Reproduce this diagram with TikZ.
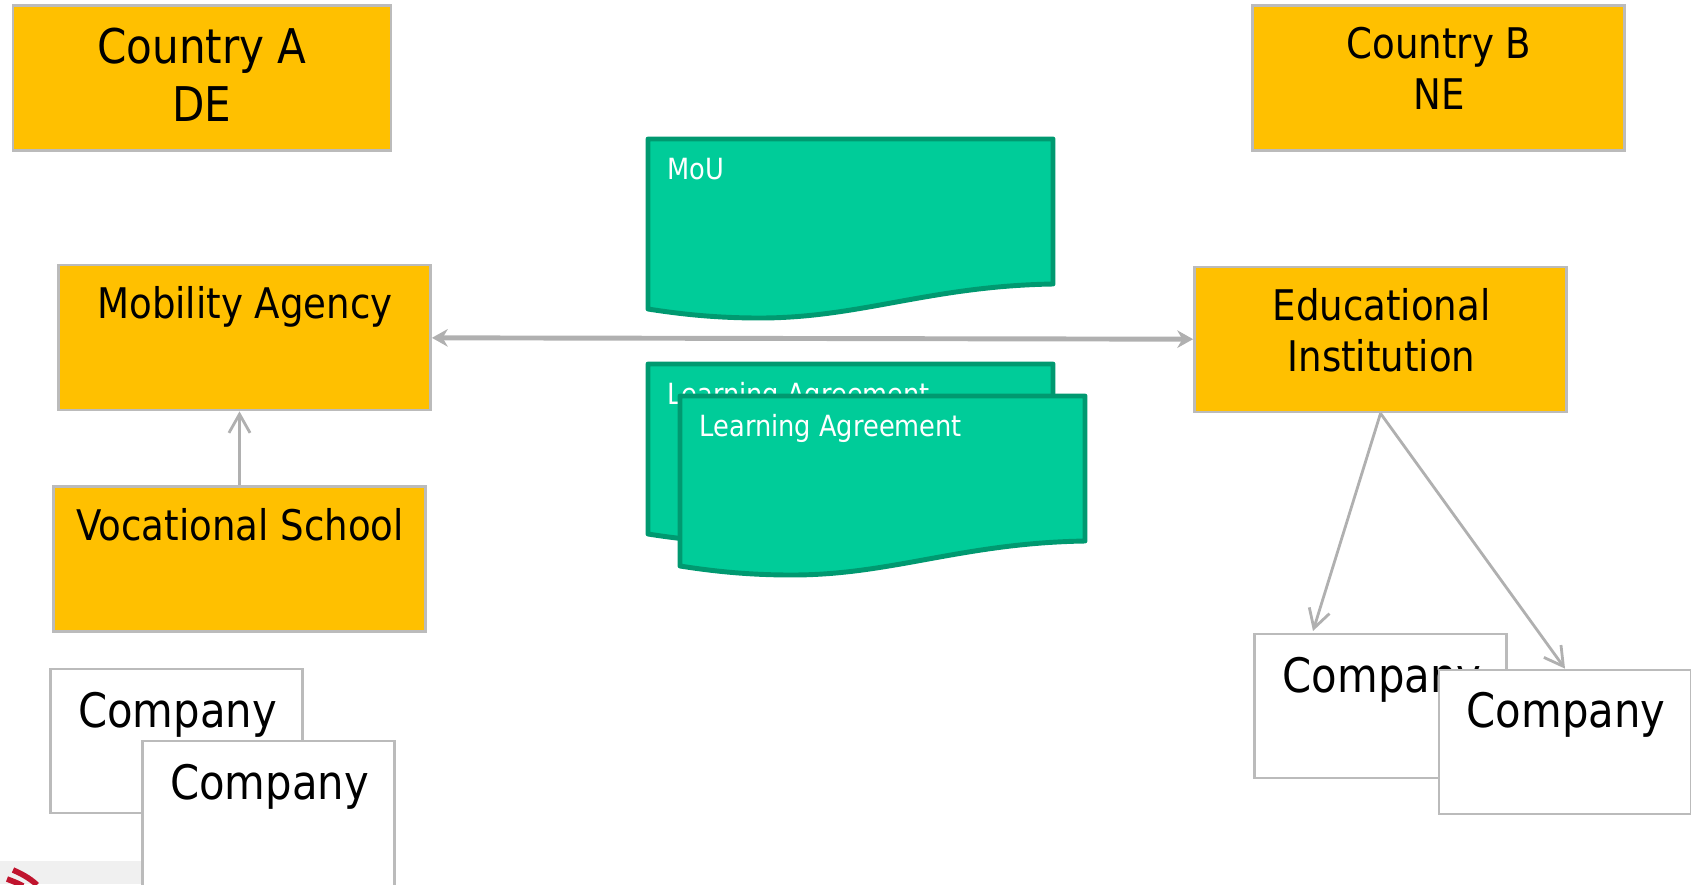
\documentclass[tikz,border=0pt]{standalone}
\usepackage{fontspec}
\setmainfont{DejaVu Sans}[FakeStretch=0.88]
\usetikzlibrary{arrows.meta}
\definecolor{boxgold}{HTML}{FFC000}
\definecolor{boxline}{HTML}{BBBBBB}
\definecolor{arrowline}{HTML}{B0B0B0}
\definecolor{docfill}{HTML}{00CC99}
\definecolor{docline}{HTML}{009970}
\definecolor{scrapred}{HTML}{C0142E}
\tikzset{
  goldbox/.style = {rectangle, draw=boxline, line width=0.75pt, fill=boxgold, minimum width=3.72cm, minimum height=1.45cm, inner sep=0pt},
  whitebox/.style = {rectangle, draw=boxline, line width=0.75pt, fill=white, minimum width=2.52cm, minimum height=1.44cm, inner sep=0pt},
  boxtext/.style = {align=center, text=black, inner sep=0pt, font=\fontsize{12}{14.5}\selectfont},
  comptext/.style = {boxtext, font=\fontsize{13.5}{15}\selectfont},
  doctext/.style = {anchor=west, text=white, inner sep=0pt, font=\fontsize{8.3}{10}\selectfont},
  docshape/.style = {draw=docline, fill=docfill, line width=1.4pt, line join=round},
  grayline/.style = {draw=arrowline, line width=0.8pt},
  barbline/.style = {grayline, -{Straight Barb[length=5.3pt,width=6pt]}}
}
\begin{document}
\begin{tikzpicture}[x=0.01cm, y=-0.01cm]
\useasboundingbox (0,0) rectangle (1691,884);
% footer scrap
\fill[gray!12] (0,861) rectangle (143,884);
\draw[scrapred, line width=1.6pt] (13,870) .. controls (20,873) and (30,878) .. (37,885);
\draw[scrapred, line width=1.6pt] (7,879) .. controls (12,881) and (18,883) .. (23,886);
% countries
\node[goldbox, minimum width=3.78cm] (CountryA) at (202, 78) {};
\node[goldbox] (CountryB) at (1438.5, 78) {};
\node[boxtext, font=\fontsize{13.6}{16.4}\selectfont] (CountryAtxt) at (202, 75) {Country A\\DE};
\node[boxtext] (CountryBtxt) at (1439, 68) {Country B\\NE};
% institutions
\node[goldbox] (Mobility) at (244.5, 337.5) {};
\node[goldbox] (School) at (239.5, 559) {};
\node[goldbox] (Edu) at (1380.5, 339.5) {};
\node[boxtext] (Mobilitytxt) at (245, 307) {Mobility Agency};
\node[boxtext] (Schooltxt) at (240, 525) {Vocational School};
\node[boxtext] (Edutxt) at (1381.5, 330) {Educational\\Institution};
% companies
\node[whitebox] (CompA1) at (176.5, 741) {};
\node[comptext] (CompA1txt) at (177.5, 715) {Company};
\node[whitebox, minimum height=1.5cm] (CompA2) at (268.5, 816) {};
\node[comptext] (CompA2txt) at (269.5, 787) {Company};
\node[whitebox] (CompB1) at (1380.5, 706) {};
\node[comptext] (CompB1txt) at (1382, 680) {Company};
\node[whitebox] (CompB2) at (1565, 742) {};
\node[comptext] (CompB2txt) at (1566, 715) {Company};
% documents
\draw[docshape] (648,139) -- (1053,139) -- (1053,284) .. controls (930,286) and (860,318) .. (760,318) .. controls (715,318) and (680,314) .. (648,309) -- cycle;
\node[doctext] (MoU) at (667,169) {MoU};
\draw[docshape] (648,364) -- (1053,364) -- (1053,509) .. controls (930,511) and (860,543) .. (760,543) .. controls (715,543) and (680,539) .. (648,534) -- cycle;
\node[doctext] (Learn1) at (667,396) {Learning Agreement};
\draw[docshape] (680,396) -- (1085,396) -- (1085,541) .. controls (962,543) and (892,575) .. (792,575) .. controls (747,575) and (712,571) .. (680,566) -- cycle;
\node[doctext] (Learn2) at (699,428) {Learning Agreement};
% arrows
\draw[grayline, line width=1.4pt, {Stealth[length=4.5pt,width=5pt]}-{Stealth[length=4.5pt,width=5pt]}] (Mobility) -- (Edu);
\draw[barbline] (School.north) -- (School.north |- Mobility.south);
\coordinate (CompB1in) at (1313,631);
\draw[barbline] (Edu.south) -- (CompB1in);
\draw[barbline] (Edu.south) -- (CompB2.north);
\end{tikzpicture}
\end{document}
